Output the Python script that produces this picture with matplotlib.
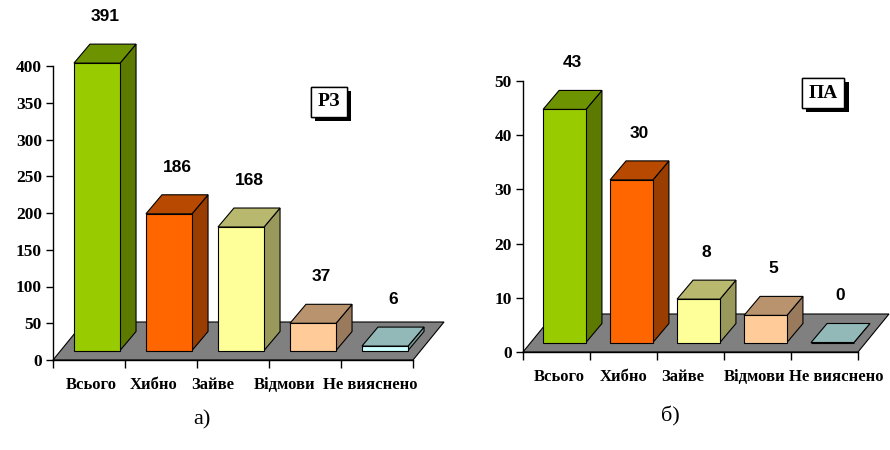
import matplotlib.pyplot as plt
import matplotlib.colors as mcolors
import matplotlib.patheffects as pe
from matplotlib.patches import Polygon
from matplotlib.transforms import ScaledTranslation

categories = ['Всього', 'Хибно', 'Зайве', 'Відмови', 'Не вияснено']
rz_values = [391, 186, 168, 37, 6]
pa_values = [43, 30, 8, 5, 0]
rz_ticks = [0, 50, 100, 150, 200, 250, 300, 350, 400]
pa_ticks = [0, 10, 20, 30, 40, 50]
bar_colors = ['#99CC00', '#FF6600', '#FFFF99', '#FFCC99', '#CCFFFF']

W, H = 890, 450
FLOOR_PX = (31, 38)    # depth of the grey floor
SHIFT_PX = (8, 9.5)    # bars stand a bit behind the floor front edge
DEPTH_PX = (16, 19)    # depth of every bar
BAR_W = 0.64

value_font = ['Liberation Sans Narrow', 'Liberation Sans']
serif_font = ['Liberation Serif', 'DejaVu Serif']

fig = plt.figure(figsize=(W / 100, H / 100), dpi=100)


def shade(c, k):
    r, g, b = mcolors.to_rgb(c)
    return (r * k, g * k, b * k)


def poly(ax, pts, fc, z):
    ax.add_patch(Polygon(pts, closed=True, facecolor=fc, edgecolor='black',
                         linewidth=0.8, clip_on=False, zorder=z,
                         joinstyle='miter'))


def draw_chart(rect, values, ticks, label_shift, tag, tag_xy, caption, caption_xy):
    left, top, right, bottom = rect
    ax = fig.add_axes([left / W, 1 - bottom / H, (right - left) / W, (bottom - top) / H])
    n = len(values)
    ymax = ticks[-1]
    ax.set_xlim(0, n)
    ax.set_ylim(0, ymax)
    sx = n / (right - left)
    sy = ymax / (bottom - top)

    fdx, fdy = FLOOR_PX[0] * sx, FLOOR_PX[1] * sy
    odx, ody = SHIFT_PX[0] * sx, SHIFT_PX[1] * sy
    bdx, bdy = DEPTH_PX[0] * sx, DEPTH_PX[1] * sy

    # floor
    poly(ax, [(0, 0), (n, 0), (n + fdx, fdy), (fdx, fdy)], '#808080', 1)

    for i, (v, c) in enumerate(zip(values, bar_colors)):
        xl = i + 0.5 - BAR_W / 2 + odx
        xr = xl + BAR_W
        b = ody
        t = b + v
        # side, top, front faces
        poly(ax, [(xr, b), (xr, t), (xr + bdx, t + bdy), (xr + bdx, b + bdy)],
             shade(c, 0.6), 3)
        poly(ax, [(xl, t), (xr, t), (xr + bdx, t + bdy), (xl + bdx, t + bdy)],
             shade(c, 0.72), 3)
        poly(ax, [(xl, b), (xr, b), (xr, t), (xl, t)], c, 3)
        ax.annotate(str(v), xy=((xl + xr) / 2 + bdx / 2, t + bdy),
                    xytext=(0, 20), textcoords='offset pixels',
                    ha='center', va='bottom', fontsize=12.5, fontweight='bold',
                    family=value_font, color='black', annotation_clip=False)

    for s in ['top', 'right']:
        ax.spines[s].set_visible(False)
    ax.spines['left'].set_linewidth(1)
    ax.spines['bottom'].set_linewidth(1)
    ax.patch.set_visible(False)

    ax.set_yticks(ticks)
    ax.set_yticklabels([str(t) for t in ticks], fontweight='bold',
                       family=serif_font, fontsize=12.5)
    ax.tick_params(axis='y', direction='out', length=5, width=1, pad=3)

    ax.set_xticks(range(n + 1))
    ax.set_xticklabels([])
    ax.set_xticks([i + 0.5 for i in range(n)], minor=True)
    ax.set_xticklabels(categories, minor=True, fontweight='bold',
                       family=serif_font, fontsize=12)
    ax.tick_params(axis='x', which='major', direction='out', length=6, width=1)
    ax.tick_params(axis='x', which='minor', length=0, pad=12)
    # nudge category names sideways so the long ones do not collide
    for lbl, dx in zip(ax.xaxis.get_minorticklabels(), label_shift):
        lbl.set_transform(lbl.get_transform() +
                          ScaledTranslation(dx / 100, 0, fig.dpi_scale_trans))

    tb = fig.text(tag_xy[0] / W, 1 - tag_xy[1] / H, tag, ha='center', va='center',
                  fontsize=14, fontweight='bold', family=serif_font,
                  bbox=dict(boxstyle='square,pad=0.35', facecolor='white',
                            edgecolor='black', linewidth=1))
    tb.get_bbox_patch().set_path_effects(
        [pe.withSimplePatchShadow(offset=(3, -3), shadow_rgbFace='black', alpha=1),
         pe.Normal()])

    fig.text(caption_xy[0] / W, 1 - caption_xy[1] / H, caption, ha='center',
             va='center', fontsize=16, family=serif_font)


draw_chart((53, 66, 413, 360), rz_values, rz_ticks, [2, -7, -20, -20, -7],
           'РЗ', (329, 102), 'а)', (202, 420))
draw_chart((523, 81, 858, 352), pa_values, pa_ticks, [3, 0, -8, -3, 12],
           'ПА', (823, 93), 'б)', (670, 416))

fig.savefig('out.png', dpi=100)
